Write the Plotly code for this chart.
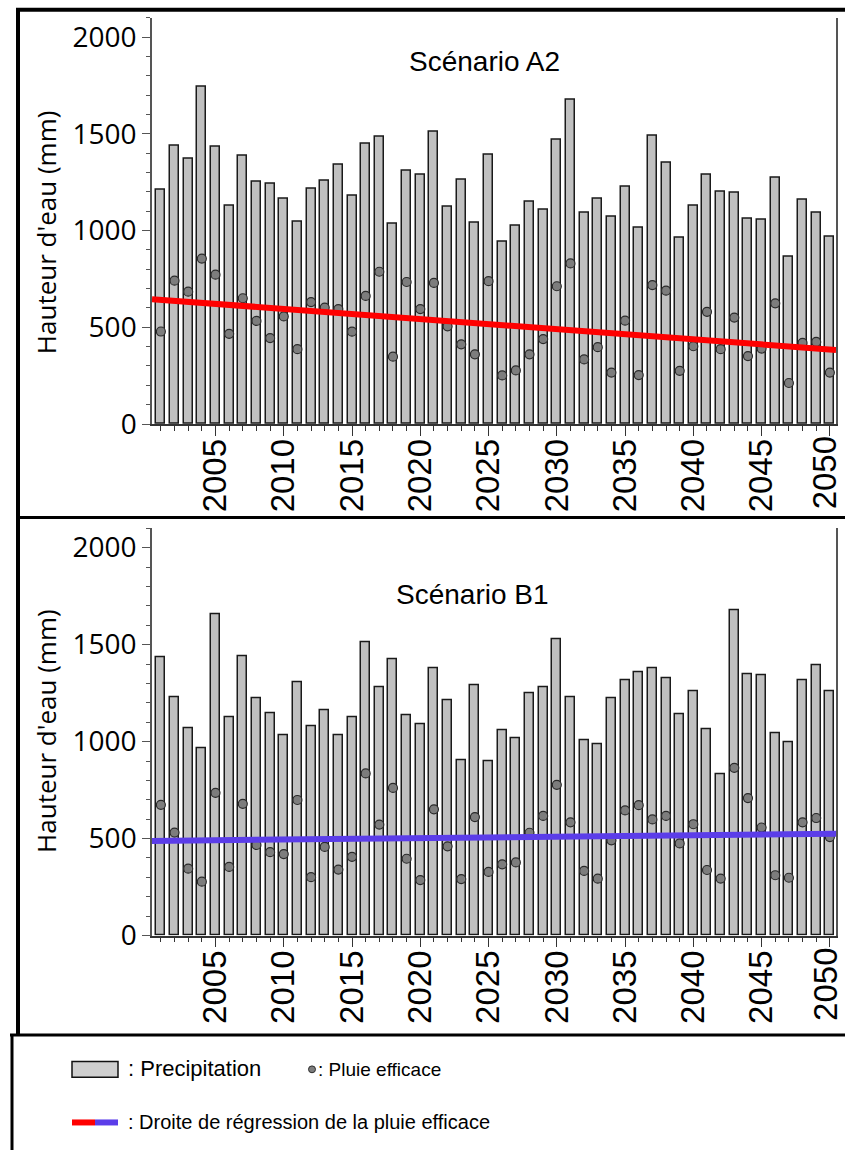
import numpy as np
import plotly.graph_objects as go

# Annual precipitation and effective rainfall (mm), 2001-2050
years = list(range(2001, 2051))

precip_a2 = [1213, 1438, 1371, 1742, 1435, 1130, 1389, 1253, 1243, 1164,
             1048, 1218, 1260, 1342, 1179, 1447, 1484, 1033, 1311, 1289,
             1513, 1123, 1265, 1043, 1391, 941, 1025, 1150, 1106, 1469,
             1674, 1091, 1162, 1070, 1226, 1016, 1491, 1349, 963, 1130,
             1288, 1199, 1194, 1062, 1057, 1271, 867, 1157, 1094, 969]
eff_a2 = [478, 741, 684, 855, 772, 466, 650, 533, 444, 556,
          387, 630, 602, 594, 477, 662, 787, 348, 734, 594,
          729, 505, 412, 360, 738, 251, 277, 360, 439, 712,
          830, 334, 397, 266, 534, 253, 718, 689, 275, 402,
          580, 387, 550, 351, 390, 624, 212, 419, 424, 266]

precip_b1 = [1437, 1230, 1069, 966, 1658, 1128, 1440, 1225, 1147, 1034,
             1306, 1078, 1159, 1034, 1125, 1514, 1281, 1425, 1137, 1090,
             1377, 1213, 904, 1293, 898, 1061, 1019, 1249, 1279, 1530,
             1227, 1007, 985, 1223, 1318, 1359, 1377, 1325, 1142, 1259,
             1066, 829, 1675, 1347, 1340, 1044, 997, 1318, 1396, 1259]
eff_b1 = [674, 531, 345, 278, 736, 354, 679, 467, 430, 420,
          699, 301, 457, 340, 406, 836, 572, 761, 396, 286,
          651, 460, 291, 611, 328, 367, 377, 530, 617, 777,
          584, 333, 293, 491, 645, 672, 599, 617, 475, 574,
          338, 294, 865, 709, 557, 311, 298, 584, 606, 508]

year_ticks = [2005, 2010, 2015, 2020, 2025, 2030, 2035, 2040, 2045, 2050]
scenarios = ["Scénario A2", "Scénario B1"]
y_title = "Hauteur d'eau (mm)"

W, H = 845, 1168
X_RANGE = [2000.35, 2050.45]
Y_RANGE = [0, 2100]


def px_x(p):
    return p / W


def px_y(p):
    return 1 - p / H


def regression(xs, ys):
    slope, intercept = np.polyfit(xs, ys, 1)
    xr = np.array(X_RANGE)
    return xr, slope * xr + intercept


fig = go.Figure()

panels = [
    (precip_a2, eff_a2, "#ff0000", "x", "y"),
    (precip_b1, eff_b1, "#5b3de9", "x2", "y2"),
]
for precip, eff, reg_color, xa, ya in panels:
    fig.add_trace(go.Bar(
        x=years, y=precip, width=0.66, xaxis=xa, yaxis=ya,
        marker=dict(color="#c0c0c0", line=dict(color="#1a1a1a", width=1.5)),
        showlegend=False,
    ))
    fig.add_trace(go.Scatter(
        x=years, y=eff, mode="markers", xaxis=xa, yaxis=ya,
        marker=dict(size=9, color="#7d7d7d", line=dict(color="#2a2a2a", width=1.2)),
        showlegend=False,
    ))
    rx, ry = regression(years, eff)
    fig.add_trace(go.Scatter(
        x=rx, y=ry, mode="lines", xaxis=xa, yaxis=ya,
        line=dict(color=reg_color, width=6),
        showlegend=False,
    ))

tick_font = dict(family="Liberation Sans, Arial, sans-serif", size=33, color="#000")
x_common = dict(
    range=X_RANGE, domain=[px_x(152), px_x(836)],
    showline=True, linecolor="#333", linewidth=1.5,
    ticks="outside", ticklen=10, tickwidth=1.3, tickcolor="#333",
    tickmode="array", tickvals=year_ticks,
    # the last label sits at the page edge and is drawn as an annotation below
    ticktext=[str(v) for v in year_ticks[:-1]] + [""],
    tickangle=-90, ticklabelstandoff=-10,
    tickfont=tick_font,
    minor=dict(dtick=1, tick0=2000, ticks="outside", ticklen=5, tickwidth=1.2, tickcolor="#333"),
    showgrid=False, zeroline=False,
)
y_common = dict(
    range=Y_RANGE,
    showline=True, linecolor="#555", linewidth=1.5, mirror=True,
    ticks="outside", ticklen=8, tickwidth=1.3, tickcolor="#555",
    tick0=0, dtick=500,
    tickfont=dict(family="Open Sans, sans-serif", size=28, color="#000"),
    minor=dict(dtick=100, ticks="outside", ticklen=4, tickwidth=1.1, tickcolor="#555"),
    showgrid=False, zeroline=False,
)

fig.update_layout(
    width=W, height=H, autosize=False,
    margin=dict(l=0, r=0, t=0, b=0),
    paper_bgcolor="white", plot_bgcolor="white",
    bargap=0,
    xaxis=dict(**x_common, anchor="y"),
    yaxis=dict(**y_common, anchor="x", domain=[px_y(430), px_y(17)]),
    xaxis2=dict(**x_common, anchor="y2"),
    yaxis2=dict(**y_common, anchor="x2", domain=[px_y(950), px_y(536)]),
)

annotations = []
# Scenario titles
for name, cx, cy in [(scenarios[0], 484, 62), (scenarios[1], 472, 603)]:
    annotations.append(dict(
        text=name, x=px_x(cx), y=px_y(cy), xref="paper", yref="paper",
        xanchor="center", yanchor="middle", showarrow=False,
        font=dict(family="Liberation Sans, Arial, sans-serif", size=28, color="#000"),
    ))
# Y-axis titles
for cy in (235, 742):
    annotations.append(dict(
        text=y_title, x=px_x(46), y=px_y(cy), xref="paper", yref="paper",
        xanchor="center", yanchor="middle", textangle=-90, showarrow=False,
        font=dict(family="Open Sans, sans-serif", size=26, color="#000"),
    ))
# Last year label on each panel, kept inside the page
for xr, yr in (("x", "y"), ("x2", "y2")):
    annotations.append(dict(
        text=str(year_ticks[-1]), x=year_ticks[-1], y=0, xref=xr, yref=yr,
        xanchor="center", yanchor="top", yshift=-10, xshift=-5,
        textangle=-90, showarrow=False, font=tick_font,
    ))

legend_font = "Liberation Sans, Arial, sans-serif"
annotations += [
    dict(text=": Precipitation", x=px_x(126), y=px_y(1085), xref="paper", yref="paper",
         xanchor="left", yanchor="middle", showarrow=False,
         font=dict(family=legend_font, size=22, color="#000")),
    dict(text=": Pluie efficace", x=px_x(316), y=px_y(1086), xref="paper", yref="paper",
         xanchor="left", yanchor="middle", showarrow=False,
         font=dict(family=legend_font, size=19, color="#000")),
    dict(text=": Droite de régression de la pluie efficace", x=px_x(126), y=px_y(1140),
         xref="paper", yref="paper", xanchor="left", yanchor="middle", showarrow=False,
         font=dict(family=legend_font, size=20, color="#000")),
]

shapes = [
    # frame and separators
    dict(type="line", xref="paper", yref="paper", x0=px_x(18), x1=px_x(18),
         y0=px_y(8), y1=px_y(1051), line=dict(color="#000", width=4)),
    dict(type="line", xref="paper", yref="paper", x0=px_x(16), x1=1,
         y0=px_y(9), y1=px_y(9), line=dict(color="#000", width=4)),
    dict(type="line", xref="paper", yref="paper", x0=px_x(16), x1=1,
         y0=px_y(525), y1=px_y(525), line=dict(color="#000", width=3)),
    dict(type="line", xref="paper", yref="paper", x0=px_x(10), x1=1,
         y0=px_y(1051), y1=px_y(1051), line=dict(color="#000", width=3)),
    dict(type="line", xref="paper", yref="paper", x0=px_x(12), x1=px_x(12),
         y0=px_y(1051), y1=0, line=dict(color="#000", width=3)),
    # legend keys
    dict(type="rect", xref="paper", yref="paper", x0=px_x(72), x1=px_x(118),
         y0=px_y(1094), y1=px_y(1078), fillcolor="#cfcfcf",
         line=dict(color="#111", width=1.5)),
    dict(type="circle", xref="paper", yref="paper", x0=px_x(308.5), x1=px_x(315.5),
         y0=px_y(1089.5), y1=px_y(1082.5), fillcolor="#7d7d7d",
         line=dict(color="#2a2a2a", width=1)),
    dict(type="line", xref="paper", yref="paper", x0=px_x(72), x1=px_x(95),
         y0=px_y(1140), y1=px_y(1140), line=dict(color="#ff0000", width=6)),
    dict(type="line", xref="paper", yref="paper", x0=px_x(95), x1=px_x(118),
         y0=px_y(1140), y1=px_y(1140), line=dict(color="#5b3de9", width=6)),
]

fig.update_layout(annotations=annotations, shapes=shapes)

fig.write_html("out.html")
